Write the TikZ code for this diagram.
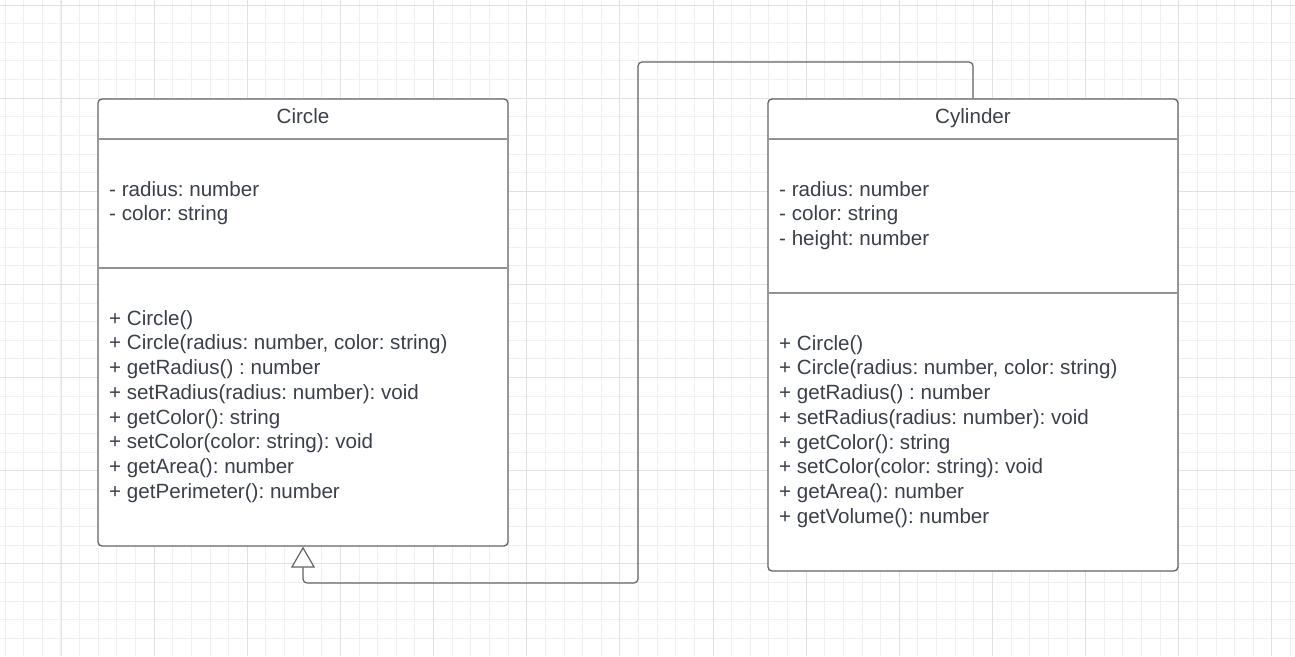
\documentclass[tikz,border=0pt]{standalone}
\usepackage{fontspec}
\setmainfont{Liberation Sans}
\usetikzlibrary{arrows.meta}
\definecolor{gridminor}{HTML}{F0F0F0}
\definecolor{gridmajor}{HTML}{E1E1E1}
\definecolor{boxline}{HTML}{60636A}
\definecolor{sepline}{HTML}{8F9297}
\definecolor{txt}{HTML}{3A404A}
\tikzset{
  classbox/.style={draw=boxline, line width=1.3pt, rounded corners=4pt, fill=white, inner sep=0pt},
  sepstyle/.style={draw=sepline, line width=1.4pt},
  umltext/.style={font=\fontsize{20.6}{24.7}\selectfont\frenchspacing, text=txt, inner sep=0pt},
  conn/.style={draw=boxline, line width=1.2pt, rounded corners=4pt},
}
\begin{document}
\frenchspacing
\begin{tikzpicture}[x=1pt,y=-1pt]
\useasboundingbox (0,0) rectangle (1295,656);
\fill[white] (0,0) rectangle (1295,656);
% grid
\foreach \k in {0,...,69} {
  \draw[gridminor, line width=1pt] ({5.1+18.63*\k},0) -- ({5.1+18.63*\k},656);
}
\foreach \k in {0,...,35} {
  \draw[gridminor, line width=1pt] (0,{5+18.63*\k}) -- (1295,{5+18.63*\k});
}
\foreach \k in {0,...,13} {
  \draw[gridmajor, line width=1pt] ({61+93.15*\k},0) -- ({61+93.15*\k},656);
}
\foreach \k in {0,...,7} {
  \draw[gridmajor, line width=1pt] (0,{5+93.15*\k}) -- (1295,{5+93.15*\k});
}
% Circle class
\node[classbox, minimum width=410pt, minimum height=447pt] (circle) at (303,322.5) {};
\draw[sepstyle] (98.7,139) -- (507.3,139);
\draw[sepstyle] (98.7,268) -- (507.3,268);
\node[umltext, anchor=base] (ctitle) at (303,123.5) {Circle};
\foreach \t [count=\i] in {- radius: number, - color: string} {
  \node[umltext, anchor=base west] (ca\i) at (109,{196+24.8*(\i-1)}) {\t};
}
\foreach \t [count=\i] in {+ Circle(), {+ Circle(radius: number, color: string)}, + getRadius() : number, + setRadius(radius: number): void, + getColor(): string, + setColor(color: string): void, + getArea(): number, + getPerimeter(): number} {
  \node[umltext, anchor=base west] (cm\i) at (109,{325+24.75*(\i-1)}) {\t};
}
% Cylinder class
\node[classbox, minimum width=410pt, minimum height=472pt] (cyl) at (973,335) {};
\draw[sepstyle] (768.7,139) -- (1177.3,139);
\draw[sepstyle] (768.7,293) -- (1177.3,293);
\node[umltext, anchor=base] (ytitle) at (973,123.5) {Cylinder};
\foreach \t [count=\i] in {- radius: number, - color: string, - height: number} {
  \node[umltext, anchor=base west] (ya\i) at (779,{196+24.8*(\i-1)}) {\t};
}
\foreach \t [count=\i] in {+ Circle(), {+ Circle(radius: number, color: string)}, + getRadius() : number, + setRadius(radius: number): void, + getColor(): string, + setColor(color: string): void, + getArea(): number, + getVolume(): number} {
  \node[umltext, anchor=base west] (ym\i) at (779,{350+24.75*(\i-1)}) {\t};
}
% generalization connector
\coordinate (k1) at (638,62);
\coordinate (k2) at (638,583);
\draw[conn, -{Triangle[open, width=24pt, length=21pt, fill=white]}] (cyl.north) |- (k1) -- (k2) -| (circle.south);
\end{tikzpicture}
\end{document}
